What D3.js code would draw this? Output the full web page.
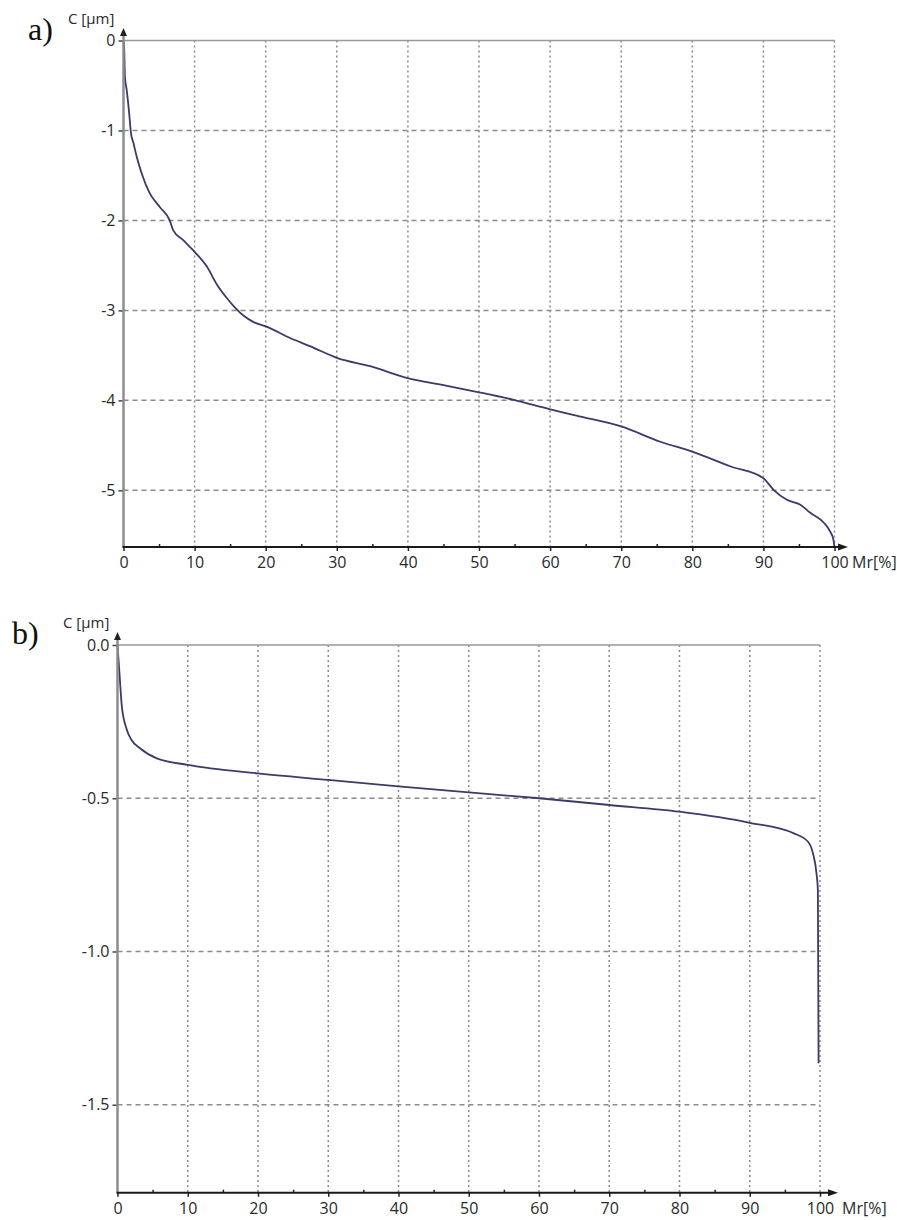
<!DOCTYPE html>
<html>
<head>
<meta charset="utf-8">
<script src="https://cdn.jsdelivr.net/npm/d3@7"></script>
<style>
  body { margin: 0; background: #fff; }
  svg { display: block; }
  .tick text { font-family: "Open Sans", sans-serif; font-size: 16px; fill: #2a2a2a; }
</style>
</head>
<body>
<div id="chart"></div>
<script>
// bearing ratio curves: Mr [%] vs C [µm]
const mrA = [0, 0.1, 0.2, 0.45, 0.8, 1.05, 1.4, 1.85, 2.55, 3.7, 5.1, 6.5, 7.0, 8.4, 10.0, 11.7, 13.2, 14.5, 15.75, 16.9,
  18.3, 20.1, 23.5, 26.3, 30.1, 34.7, 40.1, 45.0, 50.0, 54.9, 60, 64.3, 70, 75.5, 80, 85.4, 90, 91.5, 93.3, 95.2, 96.6,
  98.5, 99.4, 99.85, 100];
const cA = [0, -0.1, -0.4, -0.55, -0.81, -1.03, -1.14, -1.29, -1.475, -1.7, -1.85, -2.0, -2.11, -2.22, -2.35, -2.51, -2.72, -2.86, -2.975, -3.06,
  -3.13, -3.18, -3.31, -3.4, -3.53, -3.62, -3.755, -3.83, -3.91, -3.995, -4.1, -4.18, -4.29, -4.46, -4.57, -4.735, -4.865, -5.0, -5.105, -5.16, -5.25,
  -5.36, -5.46, -5.55, -5.63];

const mrB = [0, 0.28, 0.62, 1.34, 2.0, 3.2, 5.6, 10, 20, 30, 40, 50, 60, 70, 80, 90, 96.2, 98.3, 99.0, 99.5, 99.7, 99.8];
const cB = [0, -0.092, -0.201, -0.277, -0.31, -0.337, -0.37, -0.391, -0.419, -0.44, -0.461, -0.481, -0.5, -0.522, -0.544, -0.58, -0.614, -0.642, -0.68, -0.745, -0.8, -1.365];

const xTicks = [0, 10, 20, 30, 40, 50, 60, 70, 80, 90, 100];
const xMinor = [5, 15, 25, 35, 45, 55, 65, 75, 85, 95];
const yTicksA = [0, -1, -2, -3, -4, -5];
const yTicksB = [0, -0.5, -1.0, -1.5];

const svg = d3.select('#chart').append('svg')
    .attr('width', 897)
    .attr('height', 1220);

const panels = [
    {name: 'a)', mr: mrA, c: cA, yTicks: yTicksA, yMin: -5.63, fmt: d => String(d),
     x0: 123.5, x1: 834.5, yTop: 40.5, yBot: 547, arrowX: 848, arrowY: 28,
     lab: [28, 40], unit: [68, 24]},
    {name: 'b)', mr: mrB, c: cB, yTicks: yTicksB, yMin: -1.787, fmt: d => d.toFixed(1),
     x0: 117.5, x1: 820, yTop: 645, yBot: 1192.7, arrowX: 838, arrowY: 632,
     lab: [12, 644], unit: [63, 628]}
];

panels.forEach(p => {
    const x = d3.scaleLinear().domain([0, 100]).range([p.x0, p.x1]);
    const y = d3.scaleLinear().domain([p.yMin, 0]).range([p.yBot, p.yTop]);
    const g = svg.append('g');

    // grid
    g.selectAll('.vgrid')
        .data(xTicks.slice(1))
        .enter().append('line')
        .attr('x1', d => x(d)).attr('x2', d => x(d))
        .attr('y1', y(0)).attr('y2', p.yBot)
        .attr('stroke', '#8a8a8a')
        .attr('stroke-width', 1.5)
        .attr('stroke-dasharray', '2,3');
    g.selectAll('.hgrid')
        .data(p.yTicks.slice(1))
        .enter().append('line')
        .attr('x1', p.x0).attr('x2', x(100))
        .attr('y1', d => y(d)).attr('y2', d => y(d))
        .attr('stroke', '#8a8a8a')
        .attr('stroke-width', 1.5)
        .attr('stroke-dasharray', '5,4');
    g.append('line')
        .attr('x1', p.x0).attr('x2', x(100))
        .attr('y1', y(0)).attr('y2', y(0))
        .attr('stroke', '#999')
        .attr('stroke-width', 1.5);

    // curve
    const pts = p.mr.map((m, i) => [m, p.c[i]]);
    g.append('path')
        .datum(pts)
        .attr('fill', 'none')
        .attr('stroke', '#3b3a6b')
        .attr('stroke-width', 1.8)
        .attr('d', d3.line().curve(d3.curveMonotoneX).x(d => x(d[0])).y(d => y(d[1])));

    // y axis
    const yAxis = g.append('g')
        .attr('transform', 'translate(' + p.x0 + ',0)')
        .call(d3.axisLeft(y).tickValues(p.yTicks).tickFormat(p.fmt).tickSize(5).tickPadding(3));
    yAxis.select('.domain').remove();
    yAxis.selectAll('.tick line').attr('stroke', '#444').attr('stroke-width', 1.5);
    g.append('line')
        .attr('x1', p.x0).attr('x2', p.x0)
        .attr('y1', p.yBot).attr('y2', p.arrowY + 6)
        .attr('stroke', '#8c8c8c')
        .attr('stroke-width', 2.5);
    g.append('path')
        .attr('d', 'M' + p.x0 + ',' + p.arrowY + 'l-3.5,8h7z')
        .attr('fill', '#222');

    // x axis
    const xAxis = g.append('g')
        .attr('transform', 'translate(0,' + p.yBot + ')')
        .call(d3.axisBottom(x).tickValues(xTicks).tickFormat(d => String(d)).tickSize(4).tickPadding(6));
    xAxis.select('.domain').remove();
    xAxis.selectAll('.tick line').attr('stroke', '#222').attr('stroke-width', 1.5);
    const minor = g.append('g')
        .attr('transform', 'translate(0,' + p.yBot + ')')
        .call(d3.axisBottom(x).tickValues(xMinor).tickFormat('').tickSize(-3));
    minor.select('.domain').remove();
    minor.selectAll('.tick line').attr('stroke', '#222').attr('stroke-width', 1.5);
    g.append('line')
        .attr('x1', p.x0 - 1).attr('x2', p.arrowX - 8)
        .attr('y1', p.yBot).attr('y2', p.yBot)
        .attr('stroke', '#1a1a1a')
        .attr('stroke-width', 2);
    g.append('path')
        .attr('d', 'M' + p.arrowX + ',' + p.yBot + 'l-10,-3.5v7z')
        .attr('fill', '#1a1a1a');

    // labels
    g.append('text')
        .attr('x', p.arrowX + 4)
        .attr('y', p.yBot + 21)
        .style('font-family', '"Open Sans", sans-serif')
        .style('font-size', '16px')
        .style('fill', '#2a2a2a')
        .text('Mr[%]');
    g.append('text')
        .attr('x', p.unit[0])
        .attr('y', p.unit[1])
        .style('font-family', '"Open Sans", sans-serif')
        .style('font-size', '15px')
        .style('fill', '#2a2a2a')
        .text('C [µm]');
    g.append('text')
        .attr('x', p.lab[0])
        .attr('y', p.lab[1])
        .style('font-family', '"Liberation Serif", serif')
        .style('font-size', '32px')
        .style('fill', '#111')
        .text(p.name);
});
</script>
</body>
</html>
